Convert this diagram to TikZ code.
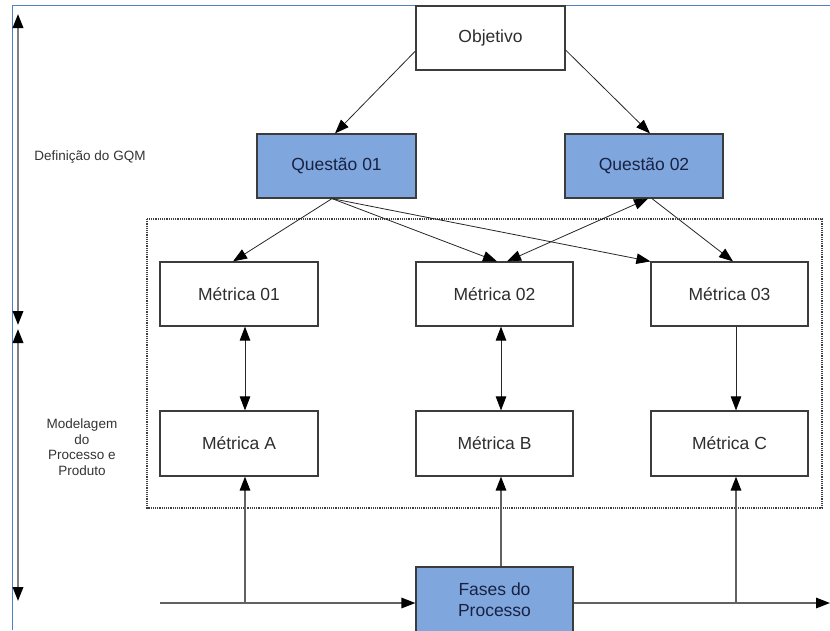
\documentclass[tikz,border=0pt]{standalone}
\usepackage{fontspec}
\setmainfont{Liberation Sans}
\usetikzlibrary{arrows.meta}
\definecolor{boxblue}{RGB}{128,166,222}
\definecolor{navytext}{RGB}{24,34,66}
\definecolor{edge}{RGB}{60,60,60}
\definecolor{frameblue}{RGB}{79,129,189}
\begin{document}
\begin{tikzpicture}[x=1pt,y=-1pt,
  tip/.tip={Triangle[length=14pt,width=10.5pt,color=black]},
  plainbox/.style={draw=edge,line width=1.2pt,fill=white,text=black!82,
    minimum width=158pt,minimum height=64pt,inner sep=0pt,
    font=\fontsize{17.5}{21}\selectfont},
  bluebox/.style={plainbox,fill=boxblue,text=navytext},
  link/.style={draw=black!85,line width=0.8pt,-tip},
  duplink/.style={link,tip-tip},
  feed/.style={draw=black!62,line width=1.5pt},
  axis/.style={draw=black!50,line width=2pt,tip-tip},
  sidelabel/.style={text=black!80,align=center,font=\fontsize{13.5}{15.5}\selectfont}
]
\useasboundingbox (0,0) rectangle (830,630);

% frame lines along top and left edges
\draw[frameblue,line width=1pt] (12,630) -- (12,5) -- (830,5);

% region marks on the left
\coordinate (a0) at (18,14);
\coordinate (a1) at (18,325);
\coordinate (b0) at (18,329);
\coordinate (b1) at (18,601);
\draw[axis] (a0) -- (a1);
\draw[axis] (b0) -- (b1);
\node[sidelabel] (lgqm) at (90,157) {Definição do GQM};
\node[sidelabel] (lmod) at (82,447) {Modelagem\\do\\Processo e\\Produto};

% dotted region of metrics
\draw[black!75,line width=1.2pt,densely dotted] (147,219) rectangle (822,508);

% goal and questions
\node[plainbox,minimum width=149pt] (obj) at (490.5,38) {Objetivo};
\node[bluebox,minimum width=159pt] (q1) at (336.5,166) {Questão 01};
\node[bluebox] (q2) at (644,166) {Questão 02};

% metrics
\node[plainbox] (m1) at (239,294) {Métrica 01};
\node[plainbox,minimum width=157pt] (m2) at (494.5,294) {Métrica 02};
\node[plainbox,minimum width=157pt] (m3) at (729.5,294) {Métrica 03};
\node[plainbox,minimum height=65pt] (ma) at (239,443.5) {Métrica A};
\node[plainbox,minimum width=157pt,minimum height=65pt] (mb) at (494.5,443.5) {Métrica B};
\node[plainbox,minimum width=157pt,minimum height=65pt] (mc) at (729.5,443.5) {Métrica C};

% process phases
\node[bluebox,minimum width=157pt,minimum height=66pt,align=center] (fases) at (494.5,600) {Fases do\\Processo};

% goal to questions
\draw[link] ([yshift=-13pt]obj.west) -- ([xshift=-1.5pt]q1.north);
\draw[link] ([yshift=-12pt]obj.east) -- ([xshift=6pt]q2.north);

% questions to metrics
\draw[link] ([xshift=-4.5pt]q1.south) -- ([xshift=-6pt]m1.north);
\draw[link] ([xshift=-4.5pt]q1.south) -- ([xshift=2.5pt]m2.north);
\draw[link] ([xshift=-4.5pt]q1.south) -- (m3.north west);
\draw[duplink] ([xshift=12.5pt]m2.north) -- ([xshift=4pt]q2.south);
\draw[link] ([xshift=8pt]q2.south) -- ([xshift=3.5pt]m3.north);

% metrics to model metrics
\draw[duplink] ([xshift=6pt]m1.south) -- ([xshift=6pt]ma.north);
\draw[duplink] ([xshift=6.5pt]m2.south) -- ([xshift=6.5pt]mb.north);
\draw[link] ([xshift=6.5pt]m3.south) -- ([xshift=6.5pt]mc.north);

% process flow feeding the model metrics
\coordinate (fin) at (160,603);
\coordinate (fout) at (830,603);
\coordinate (ja) at (245,603);
\coordinate (jc) at (736,603);
\draw[feed,-tip] (fin) -- (fases.west |- fin);
\draw[feed,-tip] (fases.east |- fin) -- (fout);
\draw[feed,-tip] (ja) -- (ja |- ma.south);
\draw[feed,-tip] ([xshift=6.5pt]fases.north) -- ([xshift=6.5pt]mb.south);
\draw[feed,-tip] (jc) -- (jc |- mc.south);
\end{tikzpicture}
\end{document}
